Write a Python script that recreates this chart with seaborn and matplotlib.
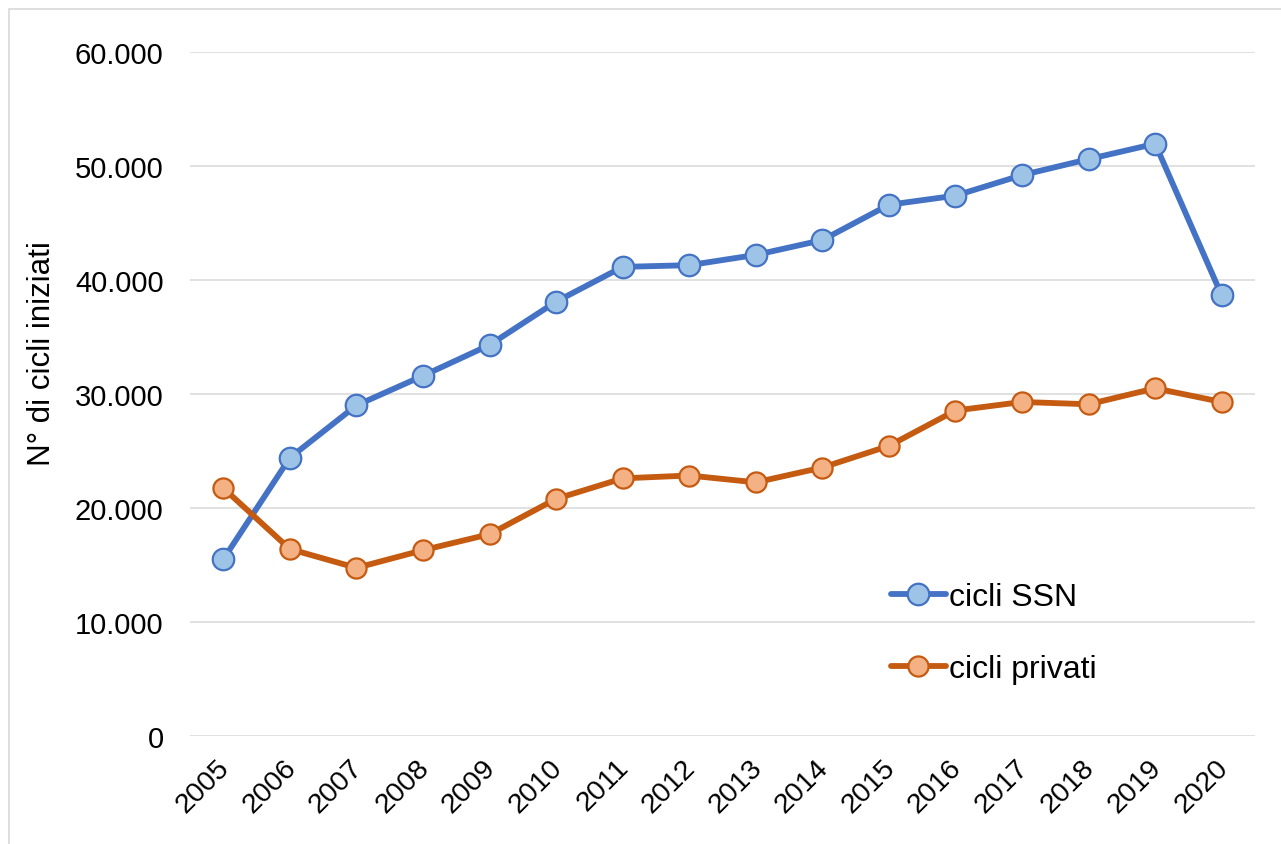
import matplotlib
matplotlib.use("Agg")
import matplotlib.pyplot as plt
import matplotlib.patches as mpatches
import matplotlib.transforms as mtransforms
import numpy as np
import pandas as pd
import seaborn as sns

# Data
anni = list(range(2005, 2021))
cicli_ssn = [15500, 24400, 29000, 31600, 34300, 38100, 41150, 41300, 42200,
             43500, 46600, 47400, 49200, 50600, 51950, 38650]
cicli_privati = [21750, 16400, 14750, 16300, 17700, 20800, 22600, 22850, 22250,
                 23550, 25450, 28550, 29300, 29100, 30500, 29300]

df = pd.DataFrame({"anno": anni, "cicli SSN": cicli_ssn, "cicli privati": cicli_privati})

sns.set_style("white")
plt.rcParams["font.family"] = ["Liberation Sans", "DejaVu Sans"]
plt.rcParams["text.color"] = "black"
plt.rcParams["xtick.color"] = "black"
plt.rcParams["ytick.color"] = "black"
plt.rcParams["axes.labelcolor"] = "black"
fs = 21

fig = plt.figure(figsize=(12.81, 8.45), dpi=100)
ax = fig.add_axes([190 / 1281, 1 - 737 / 845, 1065 / 1281, 684 / 845])

# Series
sns.lineplot(data=df, x="anno", y="cicli SSN", ax=ax, color="#4472C4", linewidth=4.2,
             marker="o", markersize=15.5, markerfacecolor="#9DC3E6",
             markeredgecolor="#4472C4", markeredgewidth=1.6, label="cicli SSN", zorder=3)
sns.lineplot(data=df, x="anno", y="cicli privati", ax=ax, color="#C55A11", linewidth=4.2,
             marker="o", markersize=14.5, markerfacecolor="#F4B183",
             markeredgecolor="#C55A11", markeredgewidth=1.6, label="cicli privati", zorder=4)

# Axes
ax.set_xlim(anni[0] - 0.5, anni[-1] + 0.5)
ax.set_ylim(0, 60000)
ax.set_yticks(np.arange(0, 60001, 10000))
ax.set_yticklabels([f"{v:,}".replace(",", ".") for v in range(0, 60001, 10000)], fontsize=fs)
ax.set_xticks(anni)
ax.tick_params(axis="y", length=0, pad=19)
ax.tick_params(axis="x", length=0, pad=10)
ax.set_xticklabels([str(a) for a in anni], fontsize=fs - 0.5, rotation=45, ha="right",
                   va="top", rotation_mode="anchor")
shift = mtransforms.ScaledTranslation(-7 / 100, -4 / 100, fig.dpi_scale_trans)
for lab in ax.get_xticklabels():
    lab.set_transform(lab.get_transform() + shift)
ax.grid(axis="y", color="#D9D9D9", linewidth=1.1)
ax.set_axisbelow(True)
for s in ax.spines.values():
    s.set_visible(False)
ax.set_xlabel("")
ax.set_ylabel("N° di cicli iniziati", fontsize=22.5, labelpad=13, y=0.56)

leg = ax.legend(loc="upper left", bbox_to_anchor=(0.658, 0.2256), frameon=False,
                fontsize=23, handlelength=1.72, handletextpad=0.1, labelspacing=1.33,
                borderpad=0, borderaxespad=0)

# Outer border
fig.patches.append(mpatches.Rectangle((9 / 1281, -0.2), 2.0, 1.2 - 10 / 845,
                                      transform=fig.transFigure, fill=False,
                                      edgecolor="#D9D9D9", linewidth=1.2))

fig.savefig("out.png", dpi=100)
